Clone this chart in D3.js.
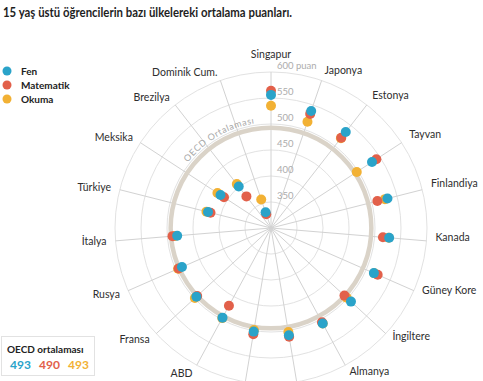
<!DOCTYPE html>
<html><head><meta charset="utf-8">
<script src="https://cdn.jsdelivr.net/npm/d3@7"></script>
<style>body{margin:0;background:#fff}svg{display:block}</style>
</head><body>
<svg id="chart" width="483" height="381"></svg>
<script>
const countries = ["Singapur","Japonya","Estonya","Tayvan","Finlandiya","Kanada","Güney Kore","İngiltere","Almanya","Hollanda","Belçika","ABD","Fransa","Rusya","İtalya","Türkiye","Meksika","Brezilya","Dominik Cum."];
const fen       = [556,538,534,532,531,528,516,509,509,509,502,496,495,487,481,425,416,401,332];
const matematik = [564,532,520,542,511,516,524,492,506,512,507,470,493,494,490,420,408,377,328];
const okuma     = [535,516,519,497,526,527,517,498,509,503,499,497,499,495,485,428,423,407,358];
const seriesNames = ["Fen","Matematik","Okuma"];
const seriesColors = ["#2aa3c9","#e2604a","#f2b134"];
const oecdAvg = [493,490,493];
const radialTicks = [350,400,450,500,550,600];
const title = "15 yaş üstü öğrencilerin bazı ülkelereki ortalama puanları.";

const svg = d3.select("#chart");
const cx = 271, cy = 228;
const r = d3.scaleLinear().domain([300,600]).range([0,156]);
const ang = d3.scaleLinear().domain([0, countries.length]).range([0, 2*Math.PI]);
const g = svg.append("g").attr("transform",`translate(${cx},${cy})`);
const font = "Lato, 'Open Sans', sans-serif";

// grid circles
g.selectAll("circle.grid").data(radialTicks).join("circle")
  .attr("r", d=>r(d)).attr("fill","none").attr("stroke","#e2e2e2").attr("stroke-width",1);
// spokes
g.selectAll("line.spoke").data(countries).join("line")
  .attr("x1",0).attr("y1",0)
  .attr("x2",(d,i)=>d3.pointRadial(ang(i), r(600))[0])
  .attr("y2",(d,i)=>d3.pointRadial(ang(i), r(600))[1])
  .attr("stroke","#d2d2d2").attr("stroke-width",1);
// OECD ring
g.append("circle").attr("r", r(oecdAvg[0])).attr("fill","none")
  .attr("stroke","#dad3c8").attr("stroke-width",4.5);
// ring label on arc
const ra = r(oecdAvg[0]) + 5.5;
const p0 = d3.pointRadial(-62*Math.PI/180, ra), p1 = d3.pointRadial(-2*Math.PI/180, ra);
g.append("path").attr("id","oecdArc").attr("fill","none")
  .attr("d",`M${p0[0]},${p0[1]} A${ra},${ra} 0 0 1 ${p1[0]},${p1[1]}`);
g.append("text").attr("font-family",font).attr("font-size",9).attr("fill","#a9a9a9")
  .attr("letter-spacing",0.6)
  .append("textPath").attr("href","#oecdArc").attr("startOffset",19).text("OECD Ortalaması");

// dots: draw Okuma, Matematik, Fen (Fen on top)
const seriesData = [fen, matematik, okuma];
[2,1,0].forEach(s=>{
  g.append("g").selectAll("circle").data(seriesData[s]).join("circle")
    .attr("cx",(d,i)=>d3.pointRadial(ang(i), r(d))[0])
    .attr("cy",(d,i)=>d3.pointRadial(ang(i), r(d))[1])
    .attr("r",5).attr("fill",seriesColors[s]);
});

// radial tick labels
g.selectAll("text.tick").data(radialTicks).join("text")
  .attr("x",6).attr("y",d=>-r(d)).attr("dy",-3)
  .attr("font-family",font).attr("font-size",9.5).attr("fill","#acacac")
  .text(d=> d===600 ? d+" puan" : d);

// country labels
const R = 165;
g.selectAll("text.country").data(countries).join("text")
  .each(function(d,i){
    const a = ang(i), p = d3.pointRadial(a, R), s = Math.sin(a);
    const anchor = s > 0.05 ? "start" : (s < -0.05 ? "end" : "middle");
    d3.select(this).attr("x",p[0]).attr("y",p[1] - 4*Math.max(0,s))
      .attr("text-anchor",anchor)
      .attr("dy", anchor==="middle" && Math.cos(a)>0 ? "-0.45em" : "0.35em");
  })
  .attr("font-family",font).attr("font-size",10.5).attr("fill","#2e2e2e")
  .text(d=>d);

// title
svg.append("text").attr("x",3).attr("y",17).attr("font-family",font)
  .attr("font-weight","bold").attr("font-size",12.5).attr("fill","#1e1e1e")
  .attr("textLength",289).attr("lengthAdjust","spacingAndGlyphs").text(title);

// legend
const leg = svg.append("g");
seriesNames.forEach((n,i)=>{
  leg.append("circle").attr("cx",7).attr("cy",71+i*14).attr("r",4.5).attr("fill",seriesColors[i]);
  leg.append("text").attr("x",21).attr("y",74.5+i*14).attr("font-family",font)
    .attr("font-weight","bold").attr("font-size",10).attr("fill","#222").text(n);
});

// OECD box
const box = svg.append("g");
box.append("rect").attr("x",1.5).attr("y",336.5).attr("width",93).attr("height",39)
  .attr("fill","#fff").attr("stroke","#e2e2e2");
box.append("text").attr("x",7).attr("y",353).attr("font-family",font)
  .attr("font-weight","bold").attr("font-size",10).attr("fill","#222").text("OECD ortalaması");
oecdAvg.forEach((v,i)=>{
  box.append("text").attr("x",10+i*29).attr("y",369).attr("font-family",font)
    .attr("font-weight","bold").attr("font-size",12).attr("fill",seriesColors[i]).text(v);
});
</script>
</body></html>
